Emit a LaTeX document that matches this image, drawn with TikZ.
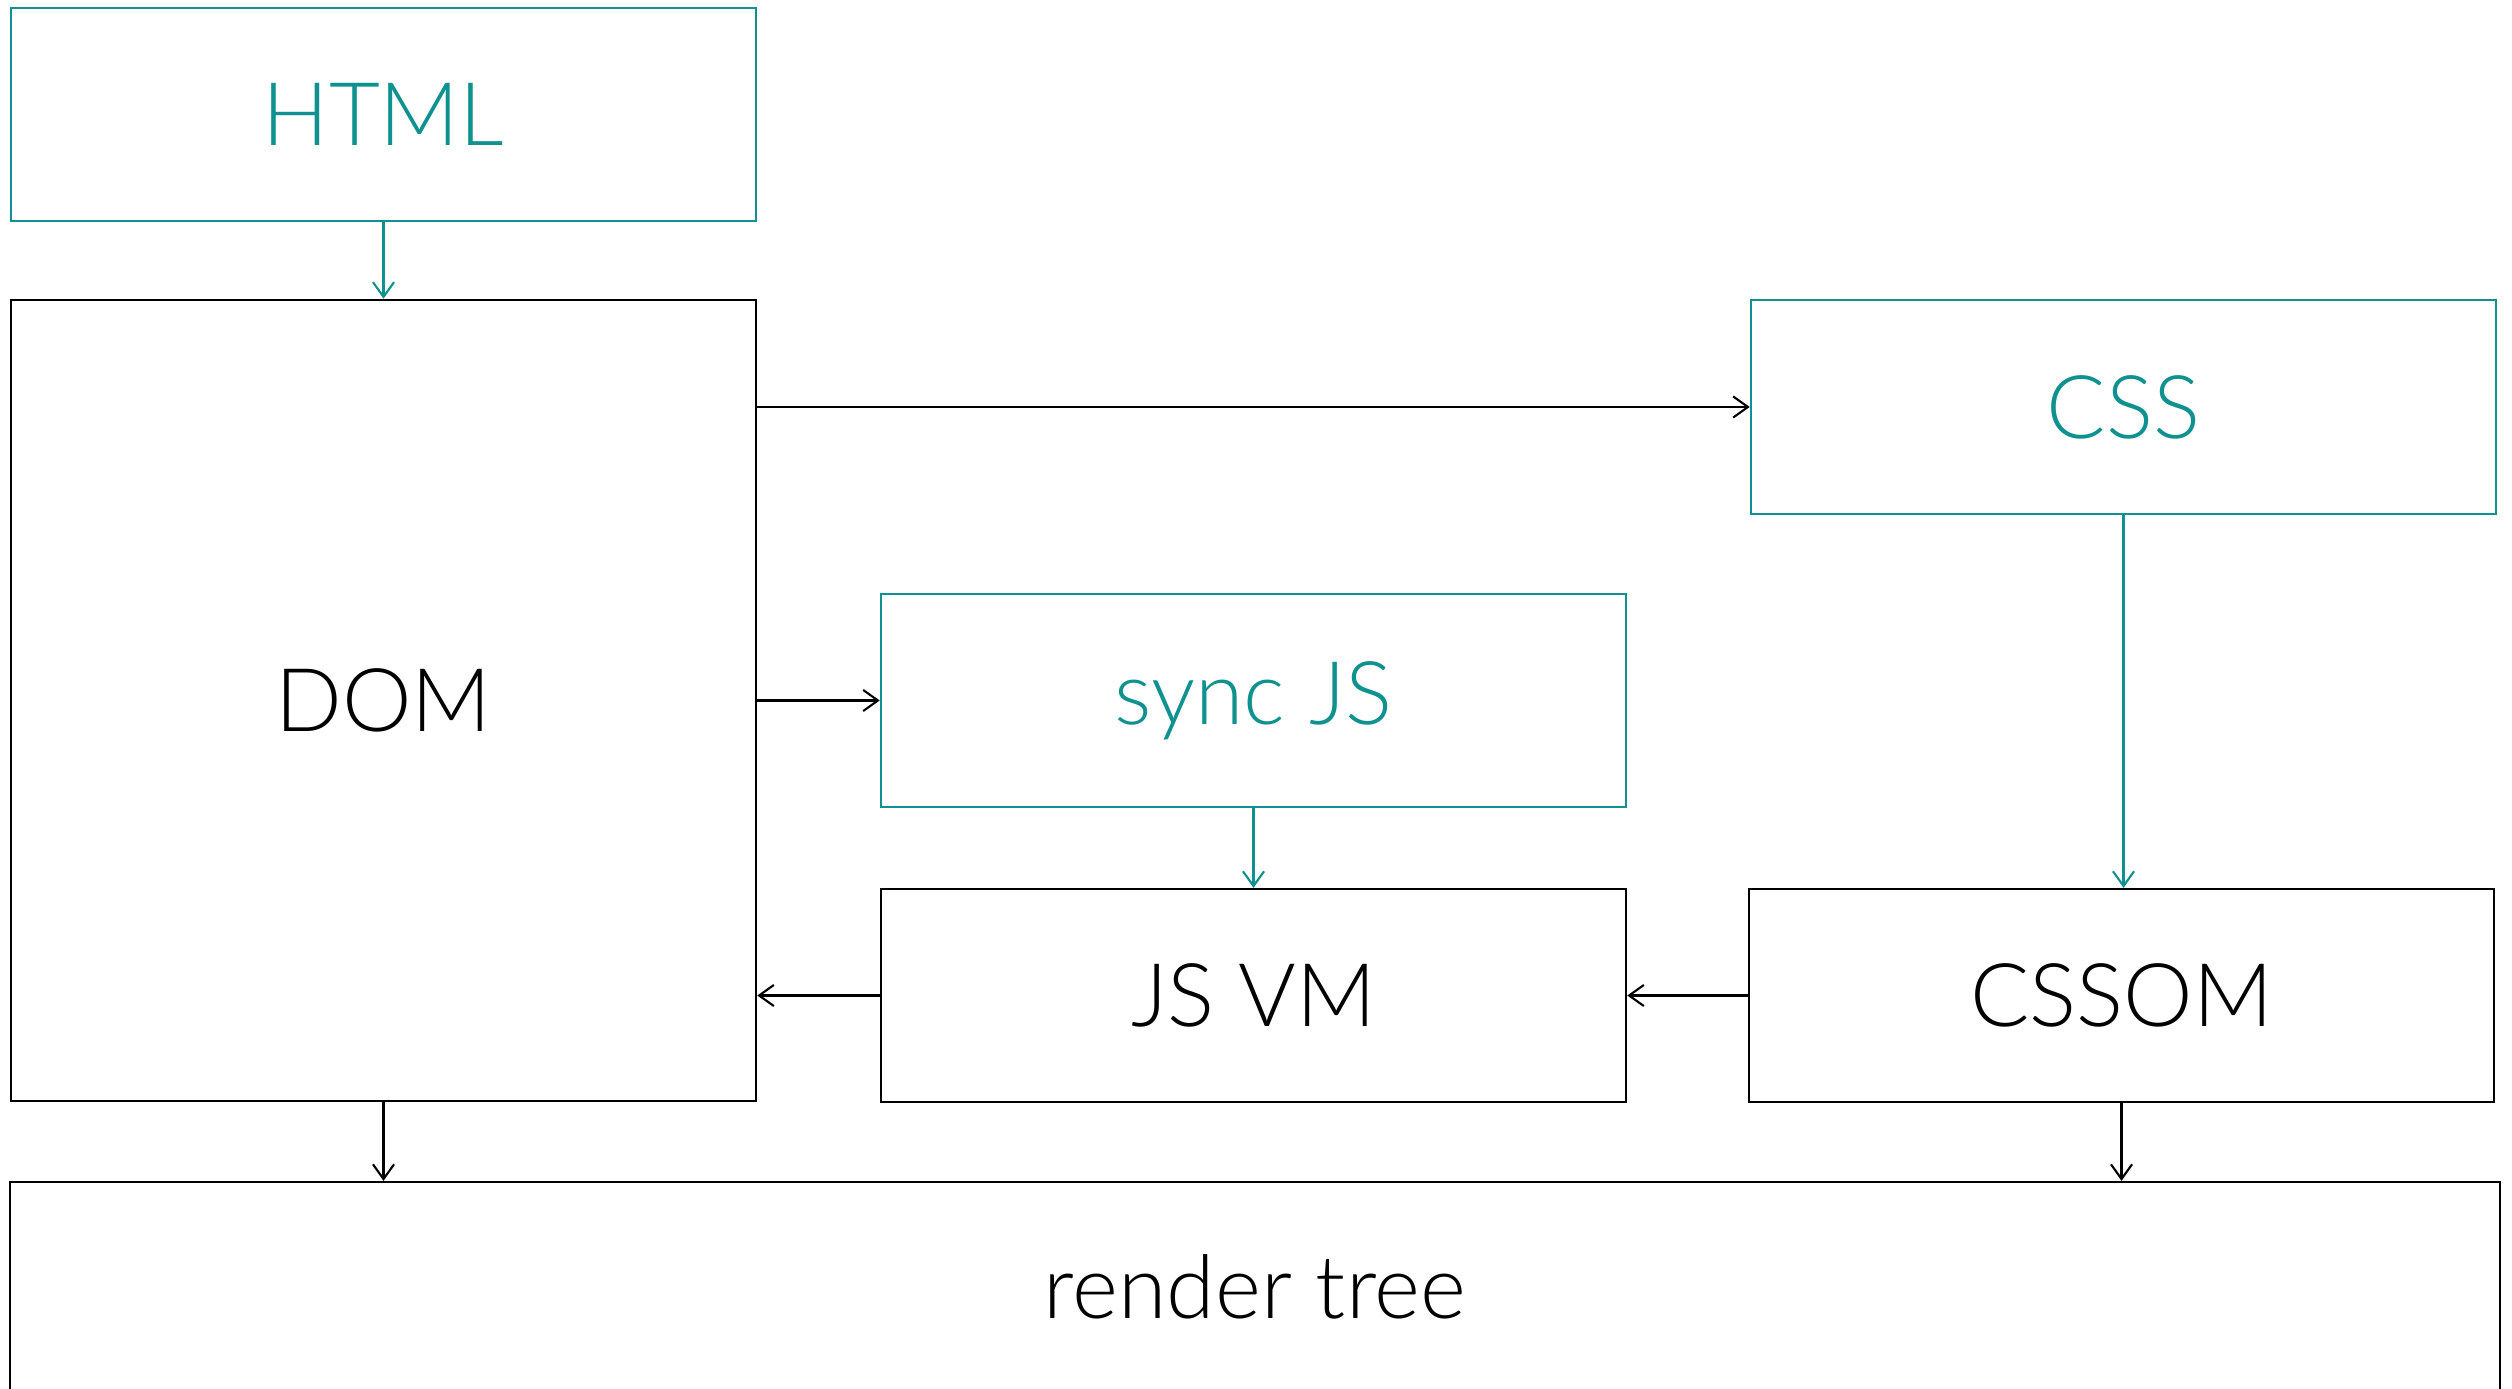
\documentclass[tikz,border=0pt]{standalone}
\usepackage{fontspec}
\setmainfont{Lato Light}
\usetikzlibrary{arrows.meta}
\definecolor{teal}{RGB}{14,145,143}
\tikzset{
  box/.style={draw, line width=0.6pt, rectangle, inner sep=0pt,
    minimum width=7.45cm, minimum height=2.13cm, font=\fontsize{25}{28}\selectfont},
  srcbox/.style={box, draw=teal, text=teal},
  link/.style={line width=0.6pt, -{Straight Barb[length=4.2pt,width=6pt]}},
  srclink/.style={link, teal}
}
\begin{document}
\begin{tikzpicture}[x=0.01cm, y=-0.01cm]
  \path[use as bounding box, fill=white] (0,0) rectangle (2512,1389);
  \clip (0,0) rectangle (2512,1389);

  % sources
  \node[srcbox] (html) at (383.5,114.5) {HTML};
  \node[srcbox, minimum height=2.14cm] (css) at (2123.5,407) {CSS};
  \node[srcbox] (sync) at (1253.5,700.5) {sync JS};

  % engine structures
  \node[box, minimum height=8.01cm] (dom) at (383.5,700.5) {DOM};
  \node[box] (jsvm) at (1253.5,995.5) {JS VM};
  \node[box] (cssom) at (2121.5,995.5) {CSSOM};
  \node[box, minimum width=24.88cm, minimum height=2.10cm] (render) at (1255,1287) {render tree};

  % flow
  \draw[srclink] (html.south) -- (dom.north);
  \draw[link] (dom.east |- css.west) -- (css.west);
  \draw[link] (dom.east) -- (sync.west);
  \draw[srclink] (sync.south) -- (jsvm.north);
  \draw[srclink] (css.south) -- (css.south |- cssom.north);
  \draw[link] (cssom.west) -- (jsvm.east);
  \draw[link] (jsvm.west) -- (jsvm.west -| dom.east);
  \draw[link] (dom.south) -- (dom.south |- render.north);
  \draw[link] (cssom.south) -- (cssom.south |- render.north);
\end{tikzpicture}
\end{document}
